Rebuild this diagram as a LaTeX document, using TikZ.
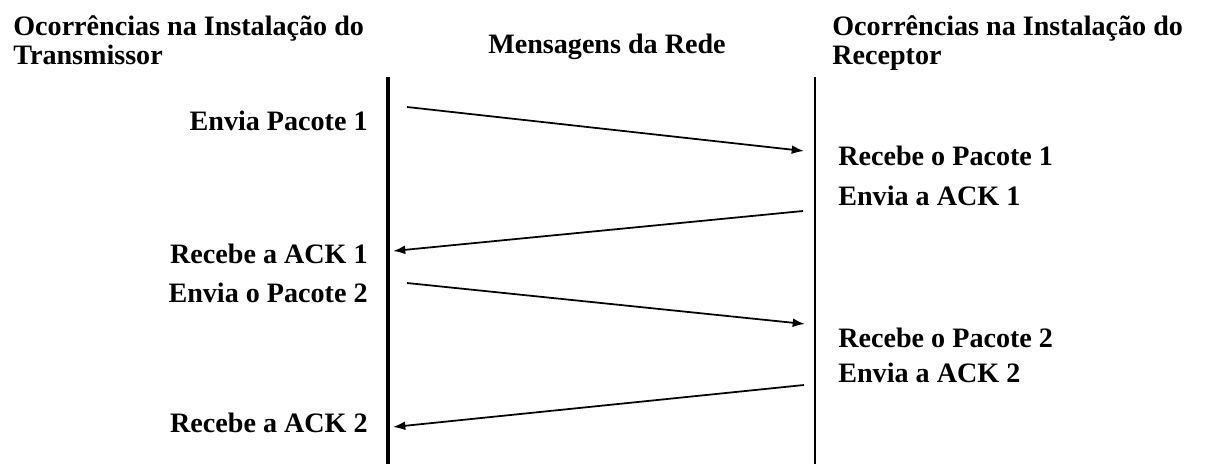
\documentclass[tikz,border=0pt]{standalone}
\usepackage{fontspec}
\setmainfont{Liberation Serif}
\usetikzlibrary{arrows.meta}
\begin{document}
\begin{tikzpicture}[x=0.02cm, y=-0.02cm,
  every node/.style={font=\fontsize{16}{19}\selectfont\bfseries, inner sep=0pt},
  msg/.style={-{Latex[length=7pt,width=5pt]}, line width=1pt}]
\useasboundingbox (0,0) rectangle (1209,464);
% headers
\node[anchor=base west] (hdrTa) at (13,35) {Ocorrências na Instalação do};
\node[anchor=base west] (hdrTb) at (13,64) {Transmissor};
\node[anchor=base] (hdrNet) at (607,53) {Mensagens da Rede};
\node[anchor=base west] (hdrRa) at (832,35) {Ocorrências na Instalação do};
\node[anchor=base west] (hdrRb) at (832,64) {Receptor};
% lifelines
\coordinate (txTop) at (388,77); \coordinate (txBot) at (388,464);
\coordinate (rxTop) at (815,77); \coordinate (rxBot) at (815,464);
\draw[line width=1.8pt] (txTop) -- (txBot);
\draw[line width=1.2pt] (rxTop) -- (rxBot);
% messages
\foreach \n/\xa/\ya/\xb/\yb in {1/407/107/804/151, 2/803/211/393/251, 3/407/283/805/324, 4/804/385/393/427} {
  \coordinate (m\n a) at (\xa,\ya);
  \coordinate (m\n b) at (\xb,\yb);
  \draw[msg] (m\n a) -- (m\n b);
}
% events
\foreach \n/\y/\txt in {1/130/Envia Pacote 1, 2/263/Recebe a ACK 1, 3/302/Envia o Pacote 2, 4/432/Recebe a ACK 2}
  \node[anchor=base east] (tx\n) at (368,\y) {\txt};
\foreach \n/\y/\txt in {1/165/Recebe o Pacote 1, 2/205/Envia a ACK 1, 3/347/Recebe o Pacote 2, 4/382/Envia a ACK 2}
  \node[anchor=base west] (rx\n) at (838,\y) {\txt};
\end{tikzpicture}
\end{document}
